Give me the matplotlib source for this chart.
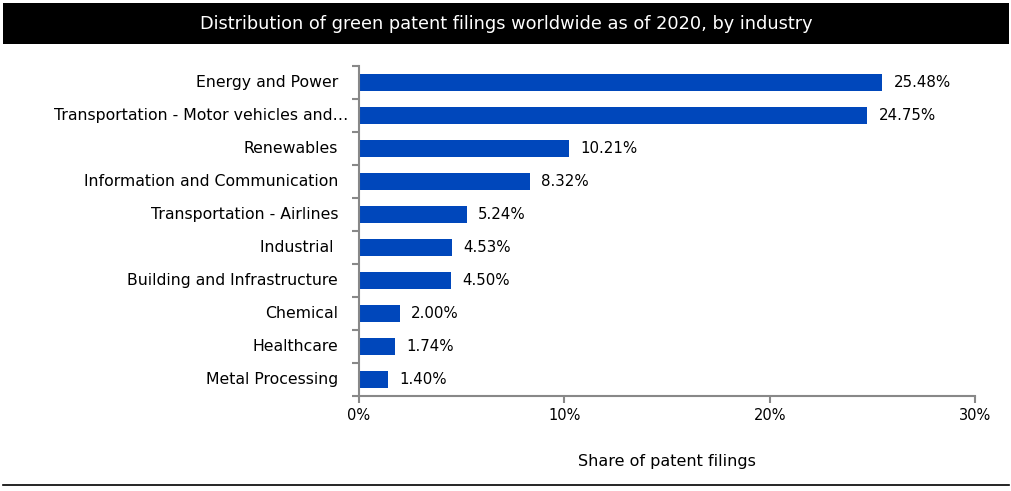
import matplotlib
matplotlib.use("Agg")
import matplotlib.pyplot as plt
import matplotlib.transforms as mtransforms
from matplotlib.ticker import FuncFormatter

categories = ["Energy and Power", "Transportation - Motor vehicles and\u2026", "Renewables",
              "Information and Communication", "Transportation - Airlines", "Industrial ",
              "Building and Infrastructure", "Chemical", "Healthcare", "Metal Processing"]
values = [25.48, 24.75, 10.21, 8.32, 5.24, 4.53, 4.50, 2.00, 1.74, 1.40]
xticks = [0, 10, 20, 30]
title = "Distribution of green patent filings worldwide as of 2020, by industry"
xlabel = "Share of patent filings"

plt.rcParams['font.family'] = ['DejaVu Sans']
W, H = 1012, 491
fig = plt.figure(figsize=(W/100, H/100), dpi=100)

# title bar
fig.patches.append(plt.Rectangle((3/W, 1 - 44/H), 1006/W, 41/H, transform=fig.transFigure,
                                 facecolor='black', edgecolor='none'))
fig.text(506/W, 1 - 24/H, title, color='white', ha='center', va='center', fontsize=12.8)
# bottom line
fig.add_artist(plt.Line2D([3/W, 1009/W], [1 - 485/H, 1 - 485/H], color='black', lw=1.2,
                          transform=fig.transFigure))

ax = fig.add_axes([359/W, 1 - 396/H, 616/W, 330/H])
y = list(range(len(categories)))
ax.barh(y, values, height=0.5, color='#0047BB')
ax.set_ylim(len(categories) - 0.5, -0.5)
ax.set_xlim(0, 30)
ax.set_xticks(xticks)
ax.xaxis.set_major_formatter(FuncFormatter(lambda v, p: f"{v:.0f}%"))
ax.set_yticks(y)
ax.set_yticklabels(categories)
ax.set_yticks([i - 0.5 for i in range(len(categories) + 1)], minor=True)
ax.tick_params(axis='y', which='major', length=0, pad=15, labelsize=11.3)
ax.tick_params(axis='y', which='minor', length=5, color='#888888', width=1.5)
ax.tick_params(axis='x', length=5, color='#888888', width=1.5, labelsize=10.5, pad=4)
up = mtransforms.ScaledTranslation(0, 1.5/100, fig.dpi_scale_trans)
for lbl in ax.get_yticklabels():
    tr = lbl.get_transform() + up
    if lbl.get_text().endswith('\u2026'):
        tr = tr + mtransforms.ScaledTranslation(10/100, 0, fig.dpi_scale_trans)
    lbl.set_transform(tr)
for s in ['top', 'right']:
    ax.spines[s].set_visible(False)
for s in ['left', 'bottom']:
    ax.spines[s].set_color('#888888')
    ax.spines[s].set_linewidth(1.5)
for yi, v in zip(y, values):
    ax.text(v + 0.55, yi, f"{v:.2f}%", va='center', ha='left', fontsize=10.8)
ax.set_xlabel(xlabel, fontsize=11.5, labelpad=22)

fig.savefig("out.png", dpi=100)
